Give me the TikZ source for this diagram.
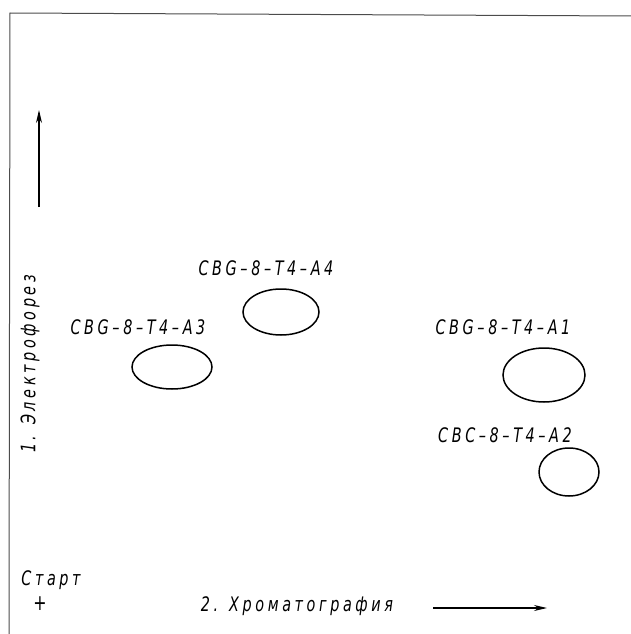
\documentclass[tikz,border=0pt]{standalone}
\usepackage{fontspec}
\setmainfont{DejaVu Sans}[FakeStretch=0.72,LetterSpace=18,ItalicFont={DejaVu Sans Oblique},UprightFont={DejaVu Sans Oblique}]
\usetikzlibrary{arrows.meta}
\begin{document}
\begin{tikzpicture}[x=1pt,y=-1pt,
  lbl/.style={inner sep=0pt,font=\fontsize{20}{24}\selectfont},
  spot/.style={line width=1.5pt},
  frame/.style={line width=1pt,draw=black!70},
  arr/.style={line width=1.2pt,-{Stealth[length=13pt,width=6pt]}}]
\useasboundingbox (0,0) rectangle (631,634);
% frame
\coordinate (tl) at (10,13);
\coordinate (tr) at (631,16);
\coordinate (bl) at (9,634);
\draw[frame] (bl) -- (tl) -- (tr);
% vertical direction arrow and label
\coordinate (v0) at (39,207);
\coordinate (v1) at (39,110);
\draw[arr] (v0) -- (v1);
\node[lbl,rotate=90] (elec) at (30,364) {1. Электрофорез};
% spots
\node[lbl] (t4) at (266,268) {CBG–8–T4–A4};
\draw[spot] (281,312) ellipse [x radius=38,y radius=23];
\node[lbl] (t3) at (138,327) {CBG–8–T4–A3};
\draw[spot] (172,367) ellipse [x radius=40,y radius=22];
\node[lbl] (t1) at (503,327) {CBG–8–T4–A1};
\draw[spot] (544,375) ellipse [x radius=41,y radius=27];
\node[lbl] (t2) at (505,435) {CBC–8–T4–A2};
\draw[spot] (569,472) ellipse [x radius=30,y radius=24];
% start
\node[lbl] (start) at (51,580) {Старт};
\node[inner sep=0pt,font=\fontsize{22}{24}\selectfont] (plus) at (40,604) {+};
% horizontal
\node[lbl] (chrom) at (297,606) {2. Хроматография};
\coordinate (h0) at (433,608);
\coordinate (h1) at (547,608);
\draw[arr] (h0) -- (h1);
\end{tikzpicture}
\end{document}
